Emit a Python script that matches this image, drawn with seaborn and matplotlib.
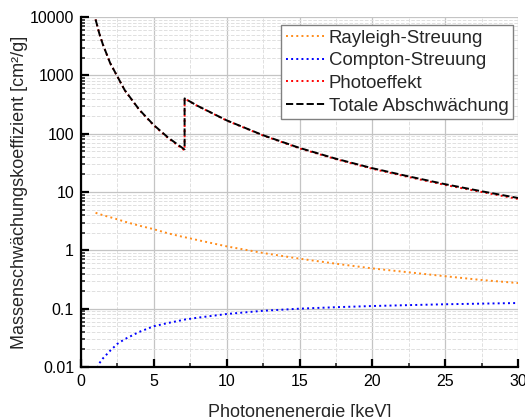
import numpy as np
import pandas as pd
import matplotlib
matplotlib.use("Agg")
import matplotlib.pyplot as plt
import seaborn as sns
from matplotlib.ticker import MultipleLocator, LogLocator, FixedLocator

energy = [1, 1.25, 1.5, 2, 2.5, 3, 4, 5, 6, 7, 7.112, 7.112, 8, 10, 12.5, 15,
          17.5, 20, 22.5, 25, 27.5, 30]
rayleigh = [4.4, 4.2, 4.0, 3.7, 3.4, 3.1, 2.65, 2.3, 1.95, 1.7, 1.68, 1.68, 1.5,
            1.17, 0.9, 0.72, 0.59, 0.49, 0.42, 0.36, 0.31, 0.275]
compton = [0.008, 0.0115, 0.014, 0.019, 0.025, 0.030, 0.040, 0.050, 0.057, 0.064,
           0.065, 0.065, 0.070, 0.081, 0.092, 0.100, 0.106, 0.111, 0.115, 0.119,
           0.122, 0.125]
photo = [9080, 5280, 3390, 1620, 950, 555, 255, 138, 83, 54, 52, 400, 298, 168,
         93, 56, 36.5, 25, 18, 13.2, 10.0, 7.6]
total = [9085, 5284, 3394, 1624, 953, 558, 258, 140, 85, 56, 54, 402, 300, 169,
         94, 57, 37.2, 25.6, 18.5, 13.6, 10.3, 7.9]

labels = ["Rayleigh-Streuung", "Compton-Streuung", "Photoeffekt", "Totale Abschwächung"]
x_ticks = [0, 5, 10, 15, 20, 25, 30]
y_ticks = [0.01, 0.1, 1, 10, 100, 1000, 10000]
y_ticklabels = ["0.01", "0.1", "1", "10", "100", "1000", "10000"]

sns.set_style("white")
plt.rcParams['font.family'] = ['Liberation Sans', 'DejaVu Sans']

fig = plt.figure(figsize=(5.25, 4.17), dpi=100)
ax = fig.add_axes([81/525, 1-367/417, (518-81)/525, (367-17)/417])

series = [(rayleigh, "#ff8c1a", ":", labels[0]),
          (compton, "#0000ff", ":", labels[1]),
          (photo, "#ff0000", ":", labels[2]),
          (total, "#000000", "--", labels[3])]
for vals, col, ls, lab in series:
    sns.lineplot(x=energy, y=vals, estimator=None, sort=False, color=col,
                 linestyle=ls, linewidth=1.4, label=lab, ax=ax)

ax.set_yscale("log")
ax.set_xlim(0, 30)
ax.set_ylim(0.01, 10000)
ax.xaxis.set_major_locator(FixedLocator(x_ticks))
ax.xaxis.set_minor_locator(MultipleLocator(2.5))
ax.yaxis.set_major_locator(FixedLocator(y_ticks))
ax.set_yticklabels(y_ticklabels)
ax.yaxis.set_minor_locator(LogLocator(base=10, subs=np.arange(2, 10)))

ax.grid(True, which="major", color="#c4c4c4", linewidth=0.9, linestyle="-")
ax.grid(True, which="minor", color="#e0e0e0", linewidth=0.7, linestyle="--")
ax.set_axisbelow(True)

for s in ["top", "right"]:
    ax.spines[s].set_visible(False)
for s in ["left", "bottom"]:
    ax.spines[s].set_color("black")
    ax.spines[s].set_linewidth(1.6)

ax.tick_params(axis="both", which="major", direction="in", length=6, width=1.6,
               labelsize=11.5, colors="black", pad=5, left=True, bottom=True)
ax.tick_params(axis="both", which="minor", direction="in", length=3, width=1.2,
               left=True, bottom=True)

ax.set_xlabel("Photonenenergie [keV]", fontsize=13, labelpad=11)
ax.set_ylabel("Massenschwächungskoeffizient [cm²/g]", fontsize=13, labelpad=1)

leg = ax.legend(loc="upper right", fontsize=13.4, frameon=True, fancybox=False,
                edgecolor="#808080", framealpha=1, handlelength=2.1,
                handletextpad=0.2, borderpad=0.25, labelspacing=0.3,
                borderaxespad=0, bbox_to_anchor=(0.989, 0.977))
leg.get_frame().set_linewidth(1.0)

fig.savefig("out.png", dpi=100)
